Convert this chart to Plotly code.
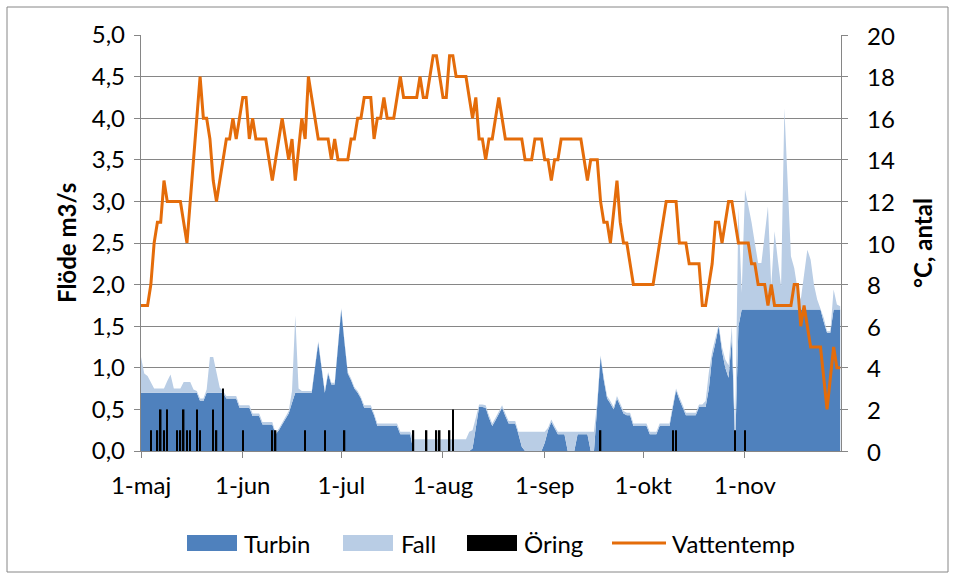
import plotly.graph_objects as go
import pandas as pd

# ---------------- data ----------------
start_date = "2013-05-01"

turbin = [
    0.7, 0.7, 0.7, 0.7, 0.7, 0.7, 0.7, 0.7, 0.7, 0.7,
    0.7, 0.7, 0.7, 0.7, 0.7, 0.7, 0.7, 0.7, 0.6, 0.6,
    0.7, 0.7, 0.7, 0.7, 0.7, 0.7, 0.63, 0.63, 0.63, 0.63,
    0.52, 0.52, 0.52, 0.52, 0.42, 0.42, 0.42, 0.32, 0.32, 0.32,
    0.32, 0.2, 0.25, 0.32, 0.39, 0.45, 0.58, 0.7, 0.7, 0.7,
    0.7, 0.7, 0.7, 1.0, 1.3, 1.0, 0.7, 0.93, 0.8, 0.8,
    1.25, 1.7, 1.3, 0.93, 0.85, 0.75, 0.7, 0.63, 0.52, 0.52,
    0.52, 0.43, 0.3, 0.3, 0.3, 0.3, 0.3, 0.3, 0.3, 0.2,
    0.2, 0.2, 0.2, 0, 0, 0, 0, 0, 0, 0,
    0, 0, 0, 0, 0, 0, 0, 0, 0, 0,
    0, 0.03, 0.27, 0.53, 0.53, 0.52, 0.4, 0.3, 0.37, 0.45,
    0.52, 0.42, 0.33, 0.33, 0.33, 0.2, 0.05, 0, 0, 0,
    0, 0, 0, 0.1, 0.25, 0.35, 0.27, 0.2, 0.2, 0.2,
    0, 0, 0, 0.2, 0.2, 0.2, 0.2, 0, 0, 0.55,
    1.13, 0.85, 0.63, 0.57, 0.5, 0.63, 0.55, 0.45, 0.43, 0.43,
    0.3, 0.3, 0.3, 0.3, 0.3, 0.2, 0.2, 0.2, 0.3, 0.3,
    0.3, 0.3, 0.52, 0.73, 0.62, 0.52, 0.43, 0.43, 0.43, 0.43,
    0.53, 0.53, 0.53, 0.75, 1.13, 1.3, 1.5, 1.2, 1.0, 0.88,
    1.35, 0.05, 1.5, 1.7, 1.7, 1.7, 1.7, 1.7, 1.7, 1.7,
    1.7, 1.7, 1.7, 1.7, 1.7, 1.7, 1.7, 1.7, 1.7, 1.7,
    1.7, 1.7, 1.7, 1.7, 1.7, 1.7, 1.7, 1.7, 1.55, 1.42,
    1.42, 1.7, 1.7, 1.7,
]

fall = [
    0.43, 0.23, 0.2, 0.12, 0.05, 0.05, 0.05, 0.05, 0.14, 0.22,
    0.05, 0.05, 0.05, 0.13, 0.13, 0.13, 0.04, 0.02, 0.03, 0.03,
    0.04, 0.43, 0.43, 0.25, 0.06, 0.02, 0.03, 0.03, 0.03, 0.03,
    0.03, 0.03, 0.03, 0.03, 0.03, 0.03, 0.03, 0.03, 0.03, 0.03,
    0.03, 0.02, 0.02, 0.02, 0.02, 0.03, 0.14, 0.93, 0.05, 0.02,
    0.02, 0.02, 0.02, 0.02, 0.02, 0.02, 0.02, 0.02, 0.02, 0.02,
    0.02, 0.02, 0.02, 0.02, 0.02, 0.02, 0.02, 0.02, 0.03, 0.03,
    0.03, 0.02, 0.03, 0.03, 0.03, 0.03, 0.03, 0.03, 0.03, 0.03,
    0.03, 0.03, 0.03, 0.14, 0.14, 0.14, 0.14, 0.14, 0.14, 0.14,
    0.14, 0.14, 0.14, 0.14, 0.14, 0.14, 0.14, 0.14, 0.14, 0.14,
    0.23, 0.22, 0.13, 0.03, 0.03, 0.03, 0.03, 0.03, 0.03, 0.03,
    0.03, 0.03, 0.03, 0.03, 0.03, 0.03, 0.18, 0.23, 0.23, 0.23,
    0.23, 0.23, 0.23, 0.13, 0.03, 0.03, 0.03, 0.03, 0.03, 0.03,
    0.23, 0.23, 0.23, 0.03, 0.03, 0.03, 0.03, 0.23, 0.23, 0.05,
    0.02, 0.03, 0.03, 0.03, 0.03, 0.03, 0.03, 0.03, 0.03, 0.03,
    0.03, 0.03, 0.03, 0.03, 0.03, 0.03, 0.03, 0.03, 0.03, 0.03,
    0.03, 0.03, 0.03, 0.02, 0.03, 0.03, 0.03, 0.03, 0.03, 0.03,
    0.03, 0.03, 0.07, 0.2, 0.07, 0.05, 0.02, 0.05, 0.1, 0.15,
    0.15, 0.2, 1.42, 0.2, 1.44, 1.25, 1.05, 0.8, 0.56, 0.56,
    0.9, 1.24, 0.28, 0.94, 0.6, 0.28, 2.42, 1.43, 0.64, 0.5,
    0.25, 0.12, 0.4, 0.72, 0.6, 0.3, 0.12, 0.02, 0.05, 0.02,
    0.02, 0.24, 0.06, 0.04,
]

vattentemp = [
    7, 7, 7, 8, 10, 11, 11, 13, 12, 12,
    12, 12, 12, 11, 10, 12, 14, 16, 18, 16,
    16, 15, 13, 12, 13, 14, 15, 15, 16, 15,
    16, 17, 17, 15, 16, 15, 15, 15, 15, 14,
    13, 14, 15, 16, 15, 14, 15, 13, 14.5, 16,
    15, 18, 17, 16, 15, 15, 15, 15, 14, 15,
    14, 14, 14, 14, 15, 15, 16, 16, 17, 17,
    17, 15, 16, 16, 17, 16, 16, 16, 17, 18,
    17, 17, 17, 17, 17, 18, 17, 17, 18, 19,
    19, 18, 17, 17, 19, 19, 18, 18, 18, 18,
    17, 16, 17, 15, 15, 14, 15, 15, 16, 17,
    16, 15, 15, 15, 15, 15, 15, 14, 14, 14,
    15, 15, 15, 14, 14, 13, 14, 14, 15, 15,
    15, 15, 15, 15, 15, 14, 13, 14, 14, 14,
    12, 11, 11, 10, 11.5, 13, 11, 10, 10, 9,
    8, 8, 8, 8, 8, 8, 8, 9, 10, 11,
    12, 12, 12, 12, 10, 10, 10, 9, 9, 9,
    9, 7, 7, 8, 9, 11, 11, 10, 11, 12,
    12, 11, 10, 10, 10, 10, 9, 9, 8, 8,
    8, 7, 8, 7, 7, 7, 7, 7, 7, 8,
    8, 6, 7, 6, 5, 5, 5, 5, 3.5, 2,
    3.5, 5, 4, 4,
]

oring_dates = [
    "2013-05-04", "2013-05-06", "2013-05-07", "2013-05-08", "2013-05-09",
    "2013-05-12", "2013-05-13", "2013-05-14", "2013-05-15", "2013-05-16",
    "2013-05-18", "2013-05-19", "2013-05-23", "2013-05-24", "2013-05-26",
    "2013-06-01", "2013-06-10", "2013-06-11", "2013-06-20", "2013-06-26",
    "2013-07-02", "2013-07-23", "2013-07-27", "2013-07-30", "2013-07-31",
    "2013-08-03", "2013-08-04", "2013-09-18", "2013-10-10", "2013-10-11",
    "2013-10-29", "2013-11-01",
]
oring_antal = [
    1, 1, 2, 1, 2,
    1, 1, 2, 1, 1,
    2, 1, 2, 1, 3,
    1, 1, 1, 1, 1,
    1, 1, 1, 1, 1,
    1, 2, 1, 1, 1,
    1, 1,
]

month_ticks = ["2013-05-01", "2013-06-01", "2013-07-01", "2013-08-01",
               "2013-09-01", "2013-10-01", "2013-11-01"]
month_labels = ["1-maj", "1-jun", "1-jul", "1-aug", "1-sep", "1-okt", "1-nov"]
right_ticks = [0, 2, 4, 6, 8, 10, 12, 14, 16, 18, 20]

series_names = ["Turbin", "Fall", "Öring", "Vattentemp"]
left_title = "Flöde m3/s"
right_title = "°C, antal"

# ---------------- styling ----------------
BLUE = "#4F81BD"
LIGHT = "#B9CDE5"
ORANGE = "#E46C0A"
GRID = "#868686"
FONT = "Lato, Carlito, Calibri, sans-serif"
FS = 24

dates = pd.date_range(start_date, periods=len(vattentemp), freq="D")

fig = go.Figure()
fig.add_trace(go.Scatter(x=dates, y=turbin, name=series_names[0], mode="lines",
                         line=dict(width=0, color=BLUE), fillcolor=BLUE,
                         stackgroup="flow", hoverinfo="skip"))
fig.add_trace(go.Scatter(x=dates, y=fall, name=series_names[1], mode="lines",
                         line=dict(width=0, color=LIGHT), fillcolor=LIGHT,
                         stackgroup="flow", hoverinfo="skip"))
fig.add_trace(go.Bar(x=pd.to_datetime(oring_dates), y=oring_antal, name=series_names[2],
                     marker=dict(color="black", line=dict(width=0)),
                     width=40e6, yaxis="y2"))
fig.add_trace(go.Scatter(x=dates, y=vattentemp, name=series_names[3], mode="lines",
                         line=dict(color=ORANGE, width=3), yaxis="y2"))

L, R, T, B = 141, 115, 35, 128
W, H = 956, 579
PW, PH = W - L - R, H - T - B


def px_x(px):
    return (px - L) / PW


def px_y(py):
    return (H - B - py) / PH


fig.update_layout(
    width=W, height=H,
    margin=dict(l=L, r=R, t=T, b=B, pad=0),
    paper_bgcolor="white", plot_bgcolor="white",
    separators=", ",
    showlegend=False,
    font=dict(family=FONT, size=FS, color="black"),
    xaxis=dict(type="date", range=["2013-05-01", "2013-11-30 06:00"],
               tickvals=month_ticks, ticktext=month_labels,
               ticks="outside", ticklen=6, tickcolor=GRID, tickwidth=1.3,
               showline=True, linecolor=GRID, linewidth=1.3,
               showgrid=False, zeroline=False, ticklabelstandoff=7),
    yaxis=dict(range=[0, 5], dtick=0.5, tickformat=".1f",
               showgrid=True, gridcolor=GRID, gridwidth=1.3,
               showline=True, linecolor=GRID, linewidth=1.3,
               ticks="outside", ticklen=6, tickcolor=GRID, tickwidth=1.3,
               zeroline=False, ticklabelstandoff=4),
    yaxis2=dict(range=[0, 20], tickvals=right_ticks, overlaying="y", side="right",
                showgrid=False, showline=True, linecolor=GRID, linewidth=1.3,
                ticks="outside", ticklen=6, tickcolor=GRID, tickwidth=1.3,
                zeroline=False, showticklabels=False),
)

shapes = []
annotations = []

# right axis tick labels
for v in right_ticks:
    annotations.append(dict(text=str(v), xref="paper", yref="y2", x=px_x(865), y=v,
                            showarrow=False, xanchor="left", yanchor="middle",
                            font=dict(size=FS)))

# outer chart border
shapes.append(dict(type="rect", xref="paper", yref="paper",
                   x0=px_x(7), x1=px_x(948), y0=px_y(572), y1=px_y(7),
                   line=dict(color=GRID, width=1), fillcolor="rgba(0,0,0,0)", layer="below"))

# axis titles
annotations.append(dict(text="<b>" + left_title + "</b>", xref="paper", yref="paper",
                        x=px_x(66), y=0.5, textangle=-90, showarrow=False,
                        xanchor="center", yanchor="middle", font=dict(size=FS)))
annotations.append(dict(text="<b>" + right_title + "</b>", xref="paper", yref="paper",
                        x=px_x(922), y=0.5, textangle=-90, showarrow=False,
                        xanchor="center", yanchor="middle", font=dict(size=FS)))

# custom legend
leg_y = 543
items = [
    (series_names[0], "box", BLUE, 187, 242),
    (series_names[1], "box", LIGHT, 343, 399),
    (series_names[2], "box", "black", 467, 522),
    (series_names[3], "line", ORANGE, 612, 670),
]
for name, kind, color, sx, tx in items:
    if kind == "box":
        shapes.append(dict(type="rect", xref="paper", yref="paper",
                           x0=px_x(sx), x1=px_x(sx + 50),
                           y0=px_y(leg_y + 8), y1=px_y(leg_y - 8),
                           line=dict(width=0), fillcolor=color))
    else:
        shapes.append(dict(type="line", xref="paper", yref="paper",
                           x0=px_x(sx), x1=px_x(sx + 54),
                           y0=px_y(leg_y), y1=px_y(leg_y),
                           line=dict(color=color, width=3)))
    annotations.append(dict(text=name, xref="paper", yref="paper",
                            x=px_x(tx), y=px_y(leg_y), showarrow=False,
                            xanchor="left", yanchor="middle", font=dict(size=FS)))

fig.update_layout(shapes=shapes, annotations=annotations)

fig.write_html("out.html", config={"displayModeBar": False},
               post_script="document.body.style.margin='0px';")
